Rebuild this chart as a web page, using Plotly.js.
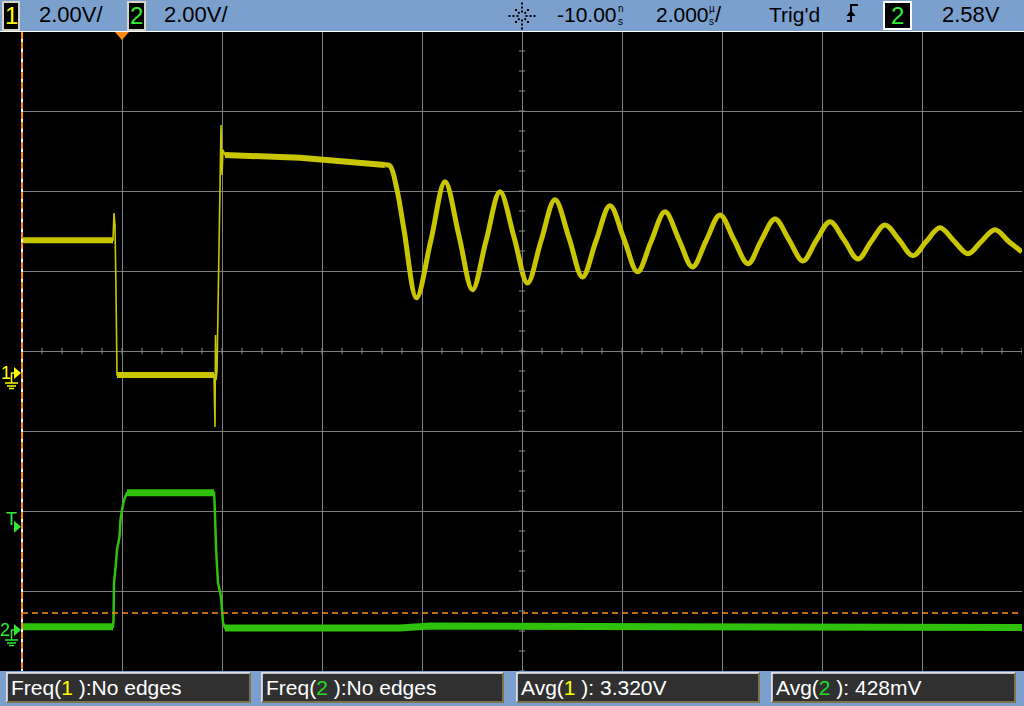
<!DOCTYPE html>
<html><head><meta charset="utf-8">
<script src="https://cdn.plot.ly/plotly-3.0.1.min.js"></script>
<style>html,body{margin:0;padding:0;background:#7ca0ce;}#plot{width:1024px;height:706px;}</style>
</head><body><div id="plot"></div>
<script>
// ---- data (time in µs, voltage in V) ----
const ch1T = [-2.0, -0.18, -0.16, -0.14, -0.12, -0.10, 1.84, 1.86, 1.87, 1.88, 1.90, 1.92, 1.95, 1.98, 2.00, 2.02, 2.06, 3.56, 5.26];
const ch1V = [3.32, 3.32, 4.00, 3.70, 2.08, -0.05, -0.05, -1.35, 0.95, -0.18, 0.03, 1.50, 3.50, 6.20, 4.95, 5.58, 5.45, 5.38, 5.20];
const ringT = [5.26, 5.36, 5.50, 5.64, 5.89, 6.18, 6.46, 6.74, 7.01, 7.28, 7.56, 7.84, 8.11, 8.38, 8.66, 8.94, 9.21, 9.48, 9.76, 10.04, 10.31, 10.58, 10.86, 11.14, 11.41, 11.68, 11.96, 12.24, 12.52, 12.78, 13.06, 13.34, 13.62, 13.88, 14.16, 14.44, 14.72, 14.98, 15.26, 15.54, 15.82, 16.08, 16.36, 16.64, 16.92, 17.18, 17.46, 17.74, 18.0];
const ringV = [5.20, 5.18, 4.58, 3.58, 1.88, 3.33, 4.78, 3.43, 2.08, 3.30, 4.53, 3.40, 2.25, 3.30, 4.33, 3.38, 2.40, 3.30, 4.18, 3.35, 2.53, 3.28, 4.03, 3.33, 2.65, 3.30, 3.95, 3.33, 2.73, 3.30, 3.85, 3.33, 2.80, 3.30, 3.78, 3.33, 2.85, 3.28, 3.70, 3.33, 2.93, 3.28, 3.63, 3.30, 2.98, 3.28, 3.58, 3.28, 3.03];
const ch2T = [-2.0, -0.18, -0.17, -0.16, -0.12, -0.10, -0.05, -0.03, 0.00, 0.04, 0.10, 1.84, 1.85, 1.86, 1.88, 1.90, 1.92, 1.98, 2.00, 2.02, 2.06, 5.56, 6.16, 7.56, 8.16, 18.0];
const ch2V = [0.08, 0.08, 0.25, 1.18, 1.68, 2.00, 2.33, 2.75, 3.00, 3.25, 3.43, 3.43, 3.25, 2.75, 2.08, 1.58, 1.18, 0.83, 0.43, 0.18, 0.05, 0.05, 0.10, 0.10, 0.06, 0.06];
const ch1Flats = [[0, 1], [5, 6], [16, 18]];
const ch2Flats = [[0, 1], [10, 11], [20, 25]];
const chScale = ['2.00V/', '2.00V/'];
const timeDelay = '-10.00';
const timeScale = '2.000';
const trigState = "Trig'd";
const trigLevel = 2.58;
const trigLevelText = '2.58V';
const measLabels = ['Freq(', 'Freq(', 'Avg(', 'Avg('];
const measChan = ['1', '2', '1', '2'];
const measValues = [':No edges', ':No edges', ': 3.320V', ': 428mV'];
const avg2 = 0.428;

// ---- geometry helpers (page px -> paper) ----
const L = 22, R = 2, T = 31, B = 35, W = 1024, H = 706;
const PW = W - L - R, PH = H - T - B;
const px = x => (x - L) / PW;
const py = y => (H - B - y) / PH;
const YEL = '#c9c500', GRN = '#2fc10b', YELB = '#ffff00', GRNB = '#33e633', ORG = '#ff8c1a';

function seg(t, v, i0, i1) { return { x: t.slice(i0, i1 + 1), y: v.slice(i0, i1 + 1) }; }

const traces = [];
traces.push({ x: ch1T, y: ch1V, yaxis: 'y2', mode: 'lines', line: { color: YEL, width: 1.6 } });
ch1Flats.forEach(f => { const s = seg(ch1T, ch1V, f[0], f[1]); traces.push({ x: s.x, y: s.y, yaxis: 'y2', mode: 'lines', line: { color: YEL, width: 6 } }); });
traces.push({ x: ringT, y: ringV, yaxis: 'y2', mode: 'lines', line: { color: YEL, width: 5, shape: 'spline', smoothing: 1 } });
traces.push({ x: ch2T, y: ch2V, yaxis: 'y3', mode: 'lines', line: { color: GRN, width: 2.5 } });
ch2Flats.forEach(f => { const s = seg(ch2T, ch2V, f[0], f[1]); traces.push({ x: s.x, y: s.y, yaxis: 'y3', mode: 'lines', line: { color: GRN, width: 7 } }); });

const shapes = [];
shapes.push({ type: 'rect', xref: 'paper', yref: 'paper', x0: px(0), x1: px(1024), y0: py(671), y1: py(31), fillcolor: '#000', line: { width: 0 }, layer: 'below' });
for (let t = -2; t <= 18.001; t += 0.4) {
  shapes.push({ type: 'line', xref: 'x', yref: 'y', x0: t, x1: t, y0: -0.04, y1: 0.04, line: { color: '#8a8a8a', width: 1 } });
}
for (let d = -4; d <= 4.001; d += 0.25) {
  shapes.push({ type: 'line', xref: 'x', yref: 'y', x0: 7.94, x1: 8.06, y0: d, y1: d, line: { color: '#8a8a8a', width: 1 } });
}
shapes.push({ type: 'line', xref: 'paper', yref: 'paper', x0: px(0), x1: px(1024), y0: py(31.5), y1: py(31.5), line: { color: '#ffffff', width: 1 } });
shapes.push({ type: 'line', xref: 'paper', yref: 'paper', x0: px(22), x1: px(22), y0: py(32), y1: py(671), line: { color: '#ffffff', width: 2 } });
shapes.push({ type: 'line', xref: 'paper', yref: 'paper', x0: px(22), x1: px(22), y0: py(32), y1: py(671), line: { color: ORG, width: 2, dash: '7px,3px' } });
shapes.push({ type: 'line', xref: 'paper', yref: 'y3', x0: 0, x1: 1, y0: avg2, y1: avg2, line: { color: ORG, width: 1.5, dash: '6px,4px' } });
{
  const xc = (0 - (-2)) / 20 * PW + L;
  shapes.push({ type: 'path', xref: 'paper', yref: 'paper', path: `M ${px(xc - 7)} ${py(32)} L ${px(xc + 7)} ${py(32)} L ${px(xc)} ${py(40)} Z`, fillcolor: ORG, line: { width: 0 } });
}
function chanMarker(yc, col, withGround) {
  shapes.push({ type: 'path', xref: 'paper', yref: 'paper', path: `M ${px(14)} ${py(yc - 6)} L ${px(21)} ${py(yc)} L ${px(14)} ${py(yc + 6)} Z`, fillcolor: col, line: { width: 0 } });
  if (withGround) {
    shapes.push({ type: 'path', xref: 'paper', yref: 'paper', path: `M ${px(14)} ${py(yc)} L ${px(11.5)} ${py(yc)} L ${px(11.5)} ${py(yc + 10)}`, line: { color: col, width: 1.5 } });
    [[5, 18, 10], [7, 16, 13], [9, 14, 15.5]].forEach(g => {
      shapes.push({ type: 'line', xref: 'paper', yref: 'paper', x0: px(g[0]), x1: px(g[1]), y0: py(yc + g[2]), y1: py(yc + g[2]), line: { color: col, width: 1.5 } });
    });
  }
}
const g1y = 373, g2y = 630;
chanMarker(g1y, YELB, true);
chanMarker(g2y, GRNB, true);
chanMarker(g2y - trigLevel * 40, GRNB, false);
function box(x0, y0, x1, y1, lc) {
  shapes.push({ type: 'rect', xref: 'paper', yref: 'paper', x0: px(x0), x1: px(x1), y0: py(y1), y1: py(y0), fillcolor: '#000', line: { color: lc, width: 2 } });
}
box(3, 2, 19, 30, '#d6d4c4');
box(128, 2, 145, 30, '#d6d4c4');
box(884, 2, 911, 29, '#ffffff');
for (let k = 0; k < 8; k++) {
  const a = k * Math.PI / 4;
  [4.5, 8.5, 12.5].forEach((r, j) => {
    if (k % 2 === 1 && j === 2) return;
    const cx = 522 + r * Math.cos(a), cy = 16 + r * Math.sin(a);
    shapes.push({ type: 'rect', xref: 'paper', yref: 'paper', x0: px(cx - 1), x1: px(cx + 1), y0: py(cy + 1), y1: py(cy - 1), fillcolor: '#000', line: { width: 0 } });
  });
}
shapes.push({ type: 'path', xref: 'paper', yref: 'paper', path: `M ${px(847)} ${py(21)} L ${px(851)} ${py(21)} L ${px(851)} ${py(5)} L ${px(858)} ${py(5)}`, line: { color: '#000', width: 2 } });
shapes.push({ type: 'path', xref: 'paper', yref: 'paper', path: `M ${px(846.5)} ${py(16)} L ${px(855.5)} ${py(16)} L ${px(851)} ${py(10)} Z`, fillcolor: '#000', line: { width: 0 } });
const mBoxX = [[7, 250], [262, 503], [517, 759], [772, 1015]];
mBoxX.forEach(b => {
  shapes.push({ type: 'rect', xref: 'paper', yref: 'paper', x0: px(b[0]), x1: px(b[1]), y0: py(702), y1: py(673), fillcolor: '#303030', line: { width: 0 } });
  shapes.push({ type: 'path', xref: 'paper', yref: 'paper', path: `M ${px(b[0])} ${py(702)} L ${px(b[0])} ${py(673)} L ${px(b[1])} ${py(673)}`, line: { color: '#f4f4f4', width: 1.5 } });
  shapes.push({ type: 'path', xref: 'paper', yref: 'paper', path: `M ${px(b[1])} ${py(673)} L ${px(b[1])} ${py(702)} L ${px(b[0])} ${py(702)}`, line: { color: '#7d7448', width: 2 } });
});

const FONT = 'Liberation Sans, Arial, sans-serif';
const ann = [];
function txt(x, y, s, size, col, anchor) {
  ann.push({ xref: 'paper', yref: 'paper', x: px(x), y: py(y), text: s, showarrow: false, xanchor: anchor || 'left', yanchor: 'middle', borderpad: 0, font: { family: FONT, size: size, color: col } });
}
txt(11, 15, '1', 24, '#ffff00', 'center');
txt(136.5, 15, '2', 24, '#33ee33', 'center');
txt(897.5, 15, '2', 24, '#33ee33', 'center');
txt(38, 14.5, chScale[0], 22, '#000');
txt(163, 14.5, chScale[1], 22, '#000');
txt(556, 14.5, timeDelay, 21, '#000');
txt(617, 8.5, 'n', 10, '#000');
txt(617, 21, 's', 10, '#000');
txt(655, 14.5, timeScale, 21, '#000');
txt(708, 8.5, 'µ', 10, '#000');
txt(708, 21, 's', 10, '#000');
txt(714, 14.5, '/', 22, '#000');
txt(768, 14.5, trigState, 21, '#000');
txt(941, 14.5, trigLevelText, 22, '#000');
txt(6, g1y, '1', 18, YELB, 'center');
txt(11, g2y - trigLevel * 40 - 8, 'T', 18, GRNB, 'center');
txt(5, g2y, '2', 18, GRNB, 'center');
const chCol = { '1': '#ffff00', '2': '#22dd22' };
mBoxX.forEach((b, i) => {
  txt(b[0] + 3, 687, `${measLabels[i]}<span style="color:${chCol[measChan[i]]}">${measChan[i]}</span> )${measValues[i]}`, 21, '#ffffff');
});

const layout = {
  width: W, height: H,
  margin: { l: L, r: R, t: T, b: B, pad: 0 },
  paper_bgcolor: '#7ca0ce', plot_bgcolor: '#000000',
  showlegend: false,
  xaxis: { range: [-2, 18], tick0: 0, dtick: 2, showgrid: true, gridcolor: '#7f7f7f', gridwidth: 1, zeroline: false, showticklabels: false, ticks: '', showline: false, fixedrange: true },
  yaxis: { range: [-4, 4], tick0: 0, dtick: 1, showgrid: true, gridcolor: '#7f7f7f', gridwidth: 1, zeroline: false, showticklabels: false, ticks: '', showline: false, fixedrange: true },
  yaxis2: { overlaying: 'y', range: [-(671 - g1y) / 40, (g1y - 31) / 40], visible: false, showgrid: false, zeroline: false, fixedrange: true },
  yaxis3: { overlaying: 'y', range: [-(671 - g2y) / 40, (g2y - 31) / 40], visible: false, showgrid: false, zeroline: false, fixedrange: true },
  shapes: shapes,
  annotations: ann
};
Plotly.newPlot('plot', traces, layout, { staticPlot: true, displayModeBar: false });
</script></body></html>
